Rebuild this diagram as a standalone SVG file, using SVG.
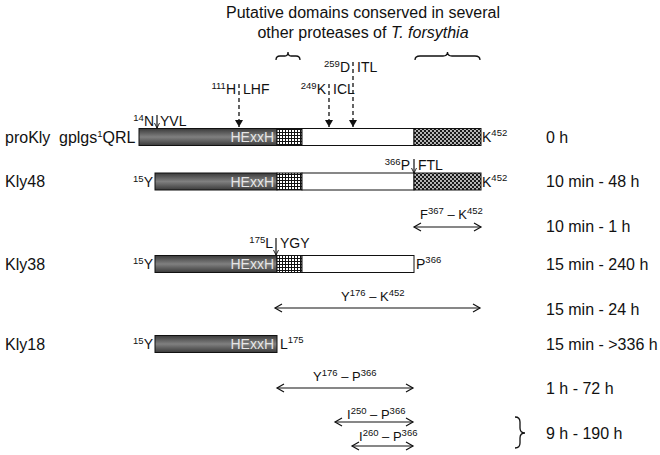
<svg xmlns="http://www.w3.org/2000/svg" width="660" height="455" viewBox="0 0 660 455">
<style>
text{font-family:"Liberation Sans",Arial,sans-serif;fill:#111}
.lg{font-size:16px}
.md{font-size:14px}
.sm{font-size:13px}
.sup{font-size:9.5px}
.hx{font-size:14px;fill:#e6e6e6}
.bar{stroke:#111;stroke-width:1}
.dash{stroke:#111;stroke-width:1.3;stroke-dasharray:4,3;fill:none}
.ln{stroke:#111;stroke-width:1.2;fill:none}
.br{stroke:#111;stroke-width:1.3;fill:none}
</style>
<defs>
<linearGradient id="dk" x1="0" y1="0" x2="0" y2="1">
<stop offset="0" stop-color="#3a3a3a"/>
<stop offset="0.5" stop-color="#808080"/>
<stop offset="1" stop-color="#3a3a3a"/>
</linearGradient>
<pattern id="grid" width="3" height="3" patternUnits="userSpaceOnUse">
<rect width="3" height="3" fill="#fff"/>
<path d="M0,0.5H3M0.5,0V3" stroke="#111" stroke-width="1"/>
</pattern>
<pattern id="chk" width="4" height="4" patternUnits="userSpaceOnUse">
<rect width="4" height="4" fill="#1a1a1a"/>
<circle cx="1" cy="1" r="0.9" fill="#fff"/>
<circle cx="3" cy="3" r="0.9" fill="#fff"/>
</pattern>
<marker id="chev" markerUnits="userSpaceOnUse" markerWidth="10" markerHeight="10" refX="8" refY="5" orient="auto-start-reverse" viewBox="0 0 10 10">
<path d="M1,1 L8,5 L1,9" fill="none" stroke="#111" stroke-width="1.2"/>
</marker>
<marker id="tri" markerUnits="userSpaceOnUse" markerWidth="8" markerHeight="8" refX="7" refY="4" orient="auto" viewBox="0 0 8 8">
<path d="M0,0 L7,4 L0,8 Z" fill="#111"/>
</marker>
<marker id="sm" markerUnits="userSpaceOnUse" markerWidth="6" markerHeight="6" refX="5" refY="3" orient="auto" viewBox="0 0 6 6">
<path d="M0,0.5 L5,3 L0,5.5" fill="none" stroke="#111" stroke-width="0.9"/>
</marker>
</defs>

<g id="title">
<text class="lg" x="363" y="18" text-anchor="middle">Putative domains conserved in several</text>
<text class="lg" x="363" y="38" text-anchor="middle">other proteases of <tspan font-style="italic">T. forsythia</tspan></text>
</g>

<g id="braces">
<path class="br" d="M276,60 Q276,56 280,56 L285,56 Q288,56 288,52 Q288,56 291,56 L296,56 Q300,56 300,60"/>
<path class="br" d="M415,60 Q415,56 420,56 L443,56 Q447.5,56 447.5,52 Q447.5,56 452,56 L475,56 Q480,56 480,60"/>
<path class="br" d="M515,417 Q520,417 520,422 L520,428 Q520,433 525,433 Q520,433 520,438 L520,443 Q520,448 515,448"/>
</g>

<g id="proKly">
<text class="lg" x="5" y="143">proKly</text>
<text class="lg" x="59" y="143">gplgs<tspan class="sup" dy="-6">1</tspan><tspan dy="6">QRL</tspan></text>
<rect class="bar" x="139" y="128.5" width="138" height="17" fill="url(#dk)"/>
<rect class="bar" x="277" y="128.5" width="25" height="17" fill="url(#grid)"/>
<rect class="bar" x="302" y="128.5" width="112" height="17" fill="#fff"/>
<rect class="bar" x="414" y="128.5" width="67" height="17" fill="url(#chk)"/>
<text class="hx" x="274" y="142" text-anchor="end">HExxH</text>
<text class="md" x="482" y="142">K<tspan class="sup" dy="-6">452</tspan></text>
<text class="md" x="154" y="126" text-anchor="end"><tspan class="sup" dy="-5">14</tspan><tspan dy="5">N</tspan></text>
<text class="md" x="160" y="126">YVL</text>
</g>

<g id="Kly48">
<text class="lg" x="5" y="187">Kly48</text>
<text class="md" x="153" y="187" text-anchor="end"><tspan class="sup" dy="-5">15</tspan><tspan dy="5">Y</tspan></text>
<rect class="bar" x="155" y="173" width="122" height="17" fill="url(#dk)"/>
<rect class="bar" x="277" y="173" width="25" height="17" fill="url(#grid)"/>
<rect class="bar" x="302" y="173" width="112" height="17" fill="#fff"/>
<rect class="bar" x="414" y="173" width="67" height="17" fill="url(#chk)"/>
<text class="hx" x="274" y="186.5" text-anchor="end">HExxH</text>
<text class="md" x="482" y="186.5">K<tspan class="sup" dy="-6">452</tspan></text>
<text class="md" x="410" y="170" text-anchor="end"><tspan class="sup" dy="-5">366</tspan><tspan dy="5">P</tspan></text>
<text class="md" x="418" y="170">FTL</text>
</g>

<g id="Kly38">
<text class="lg" x="5" y="270">Kly38</text>
<text class="md" x="153" y="269" text-anchor="end"><tspan class="sup" dy="-5">15</tspan><tspan dy="5">Y</tspan></text>
<rect class="bar" x="155" y="255.5" width="122" height="17" fill="url(#dk)"/>
<rect class="bar" x="277" y="255.5" width="25" height="17" fill="url(#grid)"/>
<rect class="bar" x="302" y="255.5" width="112" height="17" fill="#fff"/>
<text class="hx" x="274" y="269" text-anchor="end">HExxH</text>
<text class="md" x="416" y="269">P<tspan class="sup" dy="-6">366</tspan></text>
<text class="md" x="273" y="248" text-anchor="end"><tspan class="sup" dy="-5">175</tspan><tspan dy="5">L</tspan></text>
<text class="md" x="280" y="248">YGY</text>
</g>

<g id="Kly18">
<text class="lg" x="5" y="350">Kly18</text>
<text class="md" x="153" y="349" text-anchor="end"><tspan class="sup" dy="-5">15</tspan><tspan dy="5">Y</tspan></text>
<rect class="bar" x="155" y="335.5" width="122" height="17" fill="url(#dk)"/>
<text class="hx" x="274" y="349" text-anchor="end">HExxH</text>
<text class="md" x="280" y="349">L<tspan class="sup" dy="-6">175</tspan></text>
</g>

<g id="sites">
<text class="md" x="236" y="94" text-anchor="end"><tspan class="sup" dy="-5">111</tspan><tspan dy="5">H</tspan></text>
<text class="md" x="243" y="94">LHF</text>
<text class="md" x="326" y="94" text-anchor="end"><tspan class="sup" dy="-5">249</tspan><tspan dy="5">K</tspan></text>
<text class="md" x="333" y="94">ICL</text>
<text class="md" x="350" y="72" text-anchor="end"><tspan class="sup" dy="-5">259</tspan><tspan dy="5">D</tspan></text>
<text class="md" x="357" y="72">ITL</text>
</g>

<g id="fragments">
<text class="sm" x="420" y="219">F<tspan class="sup" dy="-5">367</tspan><tspan dy="5"> – K</tspan><tspan class="sup" dy="-5">452</tspan></text>
<text class="sm" x="341" y="301">Y<tspan class="sup" dy="-5">176</tspan><tspan dy="5"> – K</tspan><tspan class="sup" dy="-5">452</tspan></text>
<text class="sm" x="313" y="381">Y<tspan class="sup" dy="-5">176</tspan><tspan dy="5"> – P</tspan><tspan class="sup" dy="-5">366</tspan></text>
<text class="sm" x="347" y="419">I<tspan class="sup" dy="-5">250</tspan><tspan dy="5"> – P</tspan><tspan class="sup" dy="-5">366</tspan></text>
<text class="sm" x="359" y="441">I<tspan class="sup" dy="-5">260</tspan><tspan dy="5"> – P</tspan><tspan class="sup" dy="-5">366</tspan></text>
</g>

<g id="times">
<text class="lg" x="546" y="143">0 h</text>
<text class="lg" x="546" y="187">10 min - 48 h</text>
<text class="lg" x="546" y="232">10 min - 1 h</text>
<text class="lg" x="546" y="270">15 min - 240 h</text>
<text class="lg" x="546" y="315">15 min - 24 h</text>
<text class="lg" x="546" y="350">15 min - &gt;336 h</text>
<text class="lg" x="546" y="394">1 h  - 72 h</text>
<text class="lg" x="546" y="439">9 h - 190 h</text>
</g>

<g id="connectors">
<line class="dash" x1="239" y1="84" x2="239" y2="127" marker-end="url(#tri)"/>
<line class="dash" x1="329" y1="84" x2="329" y2="127" marker-end="url(#tri)"/>
<line class="dash" x1="353" y1="62" x2="353" y2="127" marker-end="url(#tri)"/>
<line class="ln" x1="157" y1="115" x2="157" y2="128" marker-end="url(#sm)"/>
<line class="ln" x1="414" y1="159" x2="414" y2="173" marker-end="url(#sm)"/>
<line class="ln" x1="276" y1="238" x2="276" y2="255" marker-end="url(#sm)"/>
<line class="ln" x1="414" y1="227" x2="481" y2="227" marker-start="url(#chev)" marker-end="url(#chev)"/>
<line class="ln" x1="275" y1="308" x2="480" y2="308" marker-start="url(#chev)" marker-end="url(#chev)"/>
<line class="ln" x1="277" y1="388" x2="413" y2="388" marker-start="url(#chev)" marker-end="url(#chev)"/>
<line class="ln" x1="335" y1="422" x2="413" y2="422" marker-start="url(#chev)" marker-end="url(#chev)"/>
<line class="ln" x1="352" y1="446" x2="413" y2="446" marker-start="url(#chev)" marker-end="url(#chev)"/>
</g>
</svg>
